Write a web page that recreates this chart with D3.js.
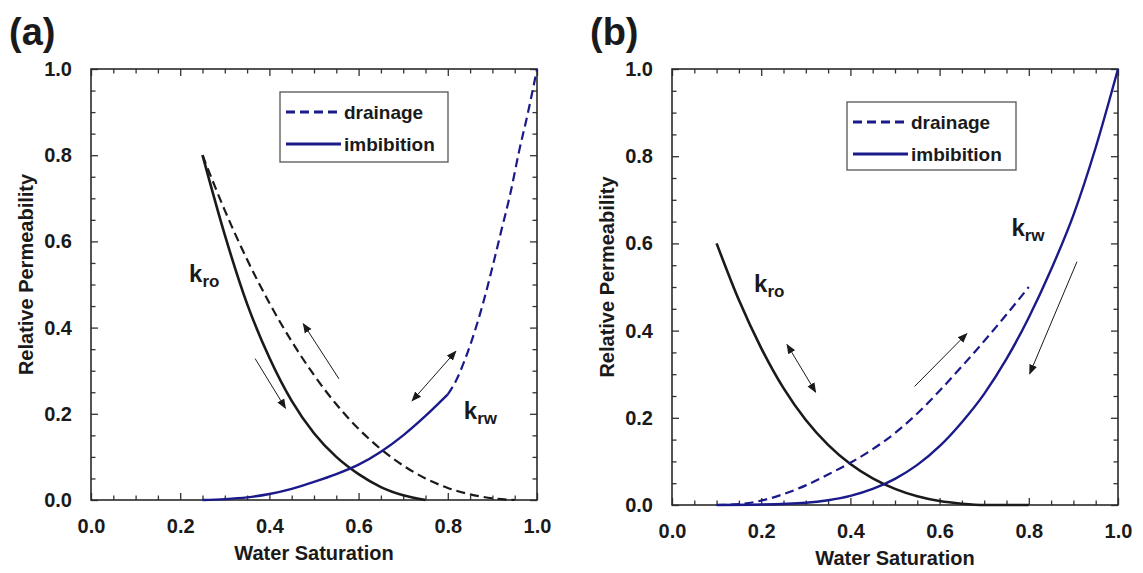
<!DOCTYPE html>
<html>
<head>
<meta charset="utf-8">
<script src="https://cdn.jsdelivr.net/npm/d3@7"></script>
<style>
  body { margin: 0; background: #fff; }
  svg { display: block; }
</style>
</head>
<body>
<div id="viz"></div>
<script>
// dados
var tickLabels = [0.0, 0.2, 0.4, 0.6, 0.8, 1.0];
var panelNames = ['(a)', '(b)'];
var legendNames = ['drainage', 'imbibition'];

// painel (a)
var aSwKroImb = [0.25, 0.30, 0.35, 0.40, 0.45, 0.50, 0.55, 0.60, 0.65, 0.70, 0.75];
var aKroImb   = [0.80, 0.615, 0.455, 0.33, 0.23, 0.155, 0.10, 0.06, 0.03, 0.011, 0.0];
var aSwKroDra = [0.25, 0.30, 0.35, 0.40, 0.45, 0.50, 0.55, 0.60, 0.65, 0.70, 0.75, 0.80, 0.85, 0.90, 0.95];
var aKroDra   = [0.80, 0.672, 0.558, 0.457, 0.368, 0.29, 0.222, 0.165, 0.118, 0.08, 0.05, 0.028, 0.013, 0.004, 0.0];
var aSwKrwImb = [0.25, 0.30, 0.35, 0.40, 0.45, 0.50, 0.55, 0.60, 0.65, 0.70, 0.75, 0.80];
var aKrwImb   = [0.0, 0.002, 0.006, 0.014, 0.026, 0.042, 0.06, 0.082, 0.112, 0.15, 0.195, 0.245];
var aSwKrwDra = [0.80, 0.82, 0.84, 0.86, 0.88, 0.90, 0.92, 0.94, 0.96, 0.98, 1.0];
var aKrwDra   = [0.245, 0.28, 0.33, 0.39, 0.46, 0.54, 0.625, 0.71, 0.81, 0.90, 1.0];

// painel (b)
var bSwKro    = [0.10, 0.15, 0.20, 0.25, 0.30, 0.35, 0.40, 0.45, 0.50, 0.55, 0.60, 0.65, 0.70, 0.80];
var bKro      = [0.60, 0.47, 0.36, 0.268, 0.195, 0.138, 0.094, 0.061, 0.037, 0.02, 0.009, 0.003, 0.0, 0.0];
var bSwKrwDra = [0.10, 0.15, 0.20, 0.25, 0.30, 0.35, 0.40, 0.45, 0.50, 0.55, 0.60, 0.65, 0.70, 0.75, 0.80];
var bKrwDra   = [0.0, 0.002, 0.01, 0.025, 0.045, 0.07, 0.097, 0.128, 0.165, 0.21, 0.262, 0.318, 0.376, 0.437, 0.50];
var bSwKrwImb = [0.10, 0.20, 0.30, 0.35, 0.40, 0.45, 0.50, 0.55, 0.60, 0.65, 0.70, 0.75, 0.80, 0.85, 0.90, 0.95, 1.0];
var bKrwImb   = [0.0, 0.001, 0.005, 0.011, 0.021, 0.037, 0.06, 0.092, 0.135, 0.19, 0.255, 0.335, 0.43, 0.54, 0.665, 0.82, 1.0];

// setas e rotulos - arrows [x1, y1, x2, y2, double] and labels [x, y]
var aArrows = [[0.368, 0.328, 0.436, 0.213, 0], [0.556, 0.281, 0.476, 0.409, 0], [0.72, 0.23, 0.818, 0.345, 1]];
var bArrows = [[0.258, 0.368, 0.322, 0.259, 1], [0.544, 0.272, 0.661, 0.393, 0], [0.908, 0.558, 0.802, 0.301, 0]];
var aKroLabel = [0.22, 0.506], aKrwLabel = [0.836, 0.187];
var bKroLabel = [0.184, 0.489], bKrwLabel = [0.761, 0.618];

var blue = '#1a1a8a';
var ink = '#1a1a1a';
var font = "'Liberation Sans', Arial, sans-serif";

var svg = d3.select('#viz')
  .append('svg')
  .attr('width', 1143)
  .attr('height', 573);

var defs = svg.append('defs');
defs.append('marker')
  .attr('id', 'head')
  .attr('viewBox', '0 0 10 10')
  .attr('refX', 9)
  .attr('refY', 5)
  .attr('markerWidth', 10)
  .attr('markerHeight', 10)
  .attr('markerUnits', 'userSpaceOnUse')
  .attr('orient', 'auto-start-reverse')
  .append('path')
  .attr('d', 'M0,1 L10,5 L0,9 Z')
  .attr('fill', ink);

function zip(xs, ys) {
  return xs.map(function(d, i){ return [d, ys[i]]; });
}

var panels = [
  {
    name: panelNames[0], left: 91, top: 69, w: 446, h: 431,
    legend: {x: 189, y: 23, w: 168, h: 70},
    curves: [
      {pts: zip(aSwKroImb, aKroImb), color: ink, width: 2.6, dash: null},
      {pts: zip(aSwKroDra, aKroDra), color: ink, width: 2.2, dash: '9,5'},
      {pts: zip(aSwKrwImb, aKrwImb), color: blue, width: 2.4, dash: null},
      {pts: zip(aSwKrwDra, aKrwDra), color: blue, width: 2.2, dash: '9,5'}
    ],
    arrows: aArrows, kro: aKroLabel, krw: aKrwLabel
  },
  {
    name: panelNames[1], left: 672, top: 69, w: 446, h: 436,
    legend: {x: 175, y: 33, w: 169, h: 68},
    curves: [
      {pts: zip(bSwKro, bKro), color: ink, width: 2.6, dash: null},
      {pts: zip(bSwKrwDra, bKrwDra), color: blue, width: 2.2, dash: '9,5'},
      {pts: zip(bSwKrwImb, bKrwImb), color: blue, width: 2.4, dash: null}
    ],
    arrows: bArrows, kro: bKroLabel, krw: bKrwLabel
  }
];

panels.forEach(drawPanel);

function drawPanel(p) {
  var g = svg.append('g')
    .attr('transform', 'translate(' + p.left + ',' + p.top + ')');

  var x = d3.scaleLinear().domain([0, 1]).range([0, p.w]);
  var y = d3.scaleLinear().domain([0, 1]).range([p.h, 0]);

  var allTicks = d3.range(0, 21).map(function(i){ return i / 20; });
  var fmt = function(d){
    var hit = tickLabels.filter(function(t){ return Math.abs(t - d) < 1e-6; });
    return hit.length ? d3.format('.1f')(d) : '';
  };
  var isMajor = function(d){ return fmt(d) !== ''; };

  function styleAxis(sel, horiz, sign) {
    sel.select('.domain').remove();
    sel.selectAll('.tick line')
      .attr('stroke', '#333')
      .attr('stroke-width', 1.3)
      .attr(horiz ? 'y2' : 'x2', function(d){ return sign * (isMajor(d) ? 7 : 4.5); });
    sel.selectAll('.tick text')
      .attr('fill', ink)
      .style('font-family', font)
      .style('font-size', '20px')
      .style('font-weight', 'bold');
  }

  g.append('g')
    .attr('transform', 'translate(0,' + p.h + ')')
    .call(d3.axisBottom(x).tickValues(allTicks).tickFormat(fmt).tickSize(-7).tickPadding(19))
    .call(styleAxis, true, -1);

  g.append('g')
    .call(d3.axisTop(x).tickValues(allTicks).tickFormat('').tickSize(-7))
    .call(styleAxis, true, 1);

  g.append('g')
    .call(d3.axisLeft(y).tickValues(allTicks).tickFormat(fmt).tickSize(-7).tickPadding(19))
    .call(styleAxis, false, 1);

  g.append('g')
    .attr('transform', 'translate(' + p.w + ',0)')
    .call(d3.axisRight(y).tickValues(allTicks).tickFormat('').tickSize(-7))
    .call(styleAxis, false, -1);

  // moldura - frame
  g.append('rect')
    .attr('width', p.w)
    .attr('height', p.h)
    .attr('fill', 'none')
    .attr('stroke', '#2a2a2a')
    .attr('stroke-width', 1.6);

  var line = d3.line()
    .x(function(d){ return x(d[0]); })
    .y(function(d){ return y(d[1]); })
    .curve(d3.curveMonotoneX);

  p.curves.forEach(function(c){
    g.append('path')
      .datum(c.pts)
      .attr('d', line)
      .attr('fill', 'none')
      .attr('stroke', c.color)
      .attr('stroke-width', c.width)
      .attr('stroke-dasharray', c.dash);
  });

  p.arrows.forEach(function(a){
    g.append('line')
      .attr('x1', x(a[0])).attr('y1', y(a[1]))
      .attr('x2', x(a[2])).attr('y2', y(a[3]))
      .attr('stroke', ink)
      .attr('stroke-width', 1)
      .attr('marker-end', 'url(#head)')
      .attr('marker-start', a[4] ? 'url(#head)' : null);
  });

  function kLabel(pos, sub) {
    var t = g.append('text')
      .attr('x', x(pos[0]))
      .attr('y', y(pos[1]))
      .attr('fill', ink)
      .style('font-family', font)
      .style('font-weight', 'bold')
      .style('font-size', '24px')
      .text('k');
    t.append('tspan')
      .attr('dy', 5)
      .style('font-size', '17px')
      .text(sub);
  }
  kLabel(p.kro, 'ro');
  kLabel(p.krw, 'rw');

  // legenda - legend
  var lg = g.append('g')
    .attr('transform', 'translate(' + p.legend.x + ',' + p.legend.y + ')');
  lg.append('rect')
    .attr('width', p.legend.w)
    .attr('height', p.legend.h)
    .attr('fill', '#fff')
    .attr('stroke', '#555')
    .attr('stroke-width', 1.3);
  legendNames.forEach(function(n, i){
    var yy = 20 + i * 32;
    lg.append('line')
      .attr('x1', 6).attr('x2', 61)
      .attr('y1', yy).attr('y2', yy)
      .attr('stroke', blue)
      .attr('stroke-width', 3)
      .attr('stroke-dasharray', i === 0 ? '9,5' : null);
    lg.append('text')
      .attr('x', 64)
      .attr('y', yy + 7)
      .attr('fill', ink)
      .style('font-family', font)
      .style('font-weight', 'bold')
      .style('font-size', '19px')
      .text(n);
  });

  // titulos - axis titles
  g.append('text')
    .attr('x', p.w / 2)
    .attr('y', p.h + 60)
    .attr('text-anchor', 'middle')
    .attr('fill', ink)
    .style('font-family', font)
    .style('font-weight', 'bold')
    .style('font-size', '20px')
    .text('Water Saturation');

  g.append('text')
    .attr('transform', 'translate(-58,' + (p.h / 2 - 10) + ') rotate(-90)')
    .attr('text-anchor', 'middle')
    .attr('fill', ink)
    .style('font-family', font)
    .style('font-weight', 'bold')
    .style('font-size', '20px')
    .text('Relative Permeability');

  svg.append('text')
    .attr('x', p.left - 82)
    .attr('y', 45)
    .attr('fill', ink)
    .style('font-family', font)
    .style('font-weight', 'bold')
    .style('font-size', '38px')
    .text(p.name);
}
</script>
</body>
</html>
